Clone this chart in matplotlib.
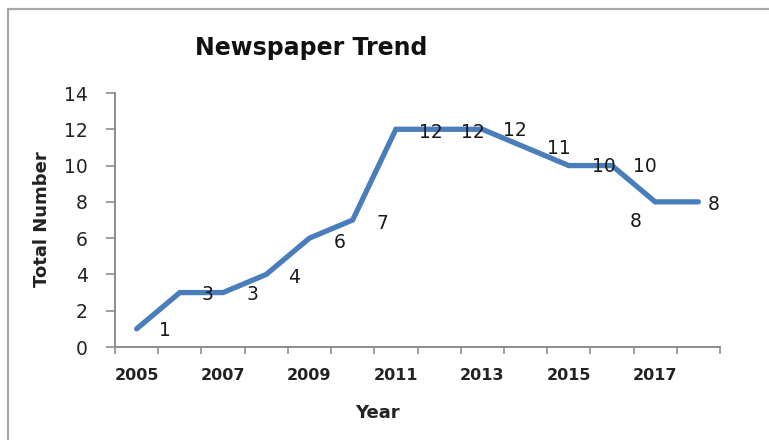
import matplotlib
matplotlib.use("Agg")
import matplotlib.pyplot as plt
from matplotlib.patches import Rectangle

years = [2005, 2006, 2007, 2008, 2009, 2010, 2011, 2012, 2013, 2014, 2015, 2016, 2017, 2018]
totals = [1, 3, 3, 4, 6, 7, 12, 12, 12, 11, 10, 10, 8, 8]
y_ticks = [0, 2, 4, 6, 8, 10, 12, 14]

# pixel offsets of each value label relative to its point (right, down)
label_offsets = [(28, 2), (28, 2), (29, 2), (28, 3), (30, 4), (30, 3),
                 (35, 3), (34, 3), (33, 1), (33, 1), (35, 1), (33, 1),
                 (-19, 20), (15, 3)]

W, H = 769, 440
fig = plt.figure(figsize=(W / 100, H / 100), dpi=100)
fig.patch.set_facecolor("white")

# outer chart frame
fig.add_artist(Rectangle((8 / W, -0.05), 1.2, (H - 9) / H + 0.05,
                         transform=fig.transFigure, fill=False,
                         edgecolor="#A8A8A8", linewidth=1.6))

left, right, top, bottom = 115, 720, 93, 347
ax = fig.add_axes([left / W, (H - bottom) / H, (right - left) / W, (bottom - top) / H])

x = list(range(len(years)))
ax.plot(x, totals, color="#4A7EBB", linewidth=3.8, solid_joinstyle="miter",
        solid_capstyle="round", zorder=3)

for xi, v, (dx, dy) in zip(x, totals, label_offsets):
    ax.annotate(str(v), (xi, v), xytext=(dx, -dy), textcoords="offset pixels",
                ha="center", va="center", fontsize=13.5, color="#1a1a1a", zorder=4)

ax.set_xlim(-0.5, len(years) - 0.5)
ax.set_ylim(0, 14)

ax.set_xticks(x[::2])
ax.set_xticklabels([str(y) for y in years[::2]], fontsize=11.5, fontweight="bold",
                   color="#222222")
ax.set_xticks([i - 0.5 for i in range(len(years) + 1)], minor=True)
ax.tick_params(axis="x", which="major", length=0, pad=15)
ax.tick_params(axis="x", which="minor", length=5, width=1.2, color="#8C8C8C")

ax.set_yticks(y_ticks)
ax.set_yticklabels([str(t) for t in y_ticks], fontsize=13.5, color="#222222")
ax.tick_params(axis="y", length=6.5, width=1.2, color="#8C8C8C", pad=13)

for side in ("top", "right"):
    ax.spines[side].set_visible(False)
for side in ("left", "bottom"):
    ax.spines[side].set_color("#8C8C8C")
    ax.spines[side].set_linewidth(1.4)

fig.text(311 / W, 1 - 48 / H, "Newspaper Trend", ha="center", va="center",
         fontsize=17, fontweight="bold", color="#111111")
fig.text(377 / W, 1 - 413 / H, "Year", ha="center", va="center",
         fontsize=13, fontweight="bold", color="#222222")
fig.text(42 / W, 1 - 219 / H, "Total Number", ha="center", va="center",
         rotation=90, fontsize=13, fontweight="bold", color="#222222")

fig.savefig("out.png", dpi=100, facecolor="white")
